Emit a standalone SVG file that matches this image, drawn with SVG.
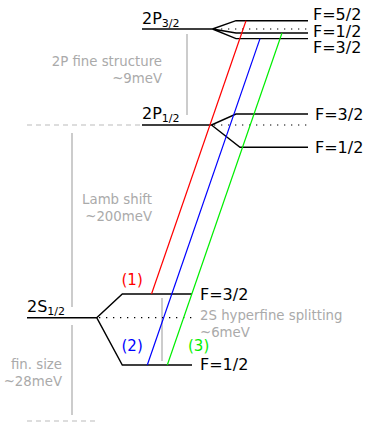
<svg xmlns="http://www.w3.org/2000/svg" width="366" height="422" viewBox="0 0 366 422">
<style>
.lv{stroke:#000;stroke-width:1.4;fill:none}
.dot{stroke:#000;stroke-width:1.2;stroke-dasharray:1.3 5.7;fill:none}
.gl{stroke:#aaa;stroke-width:1.2;fill:none}
.gd{stroke:#bbb;stroke-width:1.2;stroke-dasharray:5 4;fill:none}
.t{font-family:"DejaVu Sans",sans-serif;font-size:16px;fill:#000}
.s{font-size:11px}
.g{font-family:"DejaVu Sans",sans-serif;font-size:13.3px;fill:#aaa}
.n{font-family:"DejaVu Sans",sans-serif;font-size:15px}
</style>
<rect width="366" height="422" fill="#fff"/>
<g id="scales">
<line class="gd" x1="27" y1="125" x2="140" y2="125"/>
<line class="gd" x1="27" y1="421" x2="95" y2="421"/>
<line class="gl" x1="187" y1="34" x2="187" y2="115"/>
<line class="gl" x1="72" y1="133" x2="72" y2="307"/>
<line class="gl" x1="72" y1="325" x2="72" y2="415"/>
<line class="gl" x1="162" y1="298" x2="162" y2="361"/>
<text class="g" x="162" y="66" text-anchor="end">2P fine structure</text>
<text class="g" x="162" y="83" text-anchor="end">~9meV</text>
<text class="g" x="152" y="204" text-anchor="end">Lamb shift</text>
<text class="g" x="152" y="221" text-anchor="end">~200meV</text>
<text class="g" x="62" y="369" text-anchor="end">fin. size</text>
<text class="g" x="62" y="386" text-anchor="end">~28meV</text>
<text class="g" x="200" y="320">2S hyperfine splitting</text>
<text class="g" x="200" y="337">~6meV</text>
</g>
<g id="P32">
<path class="lv" d="M142 29H212.5L236 20.7H308M212.5 29L236 33H308M212.5 29L236 38.6H308"/>
<line class="dot" x1="214" y1="29" x2="308" y2="29"/>
<text class="t" x="142" y="24">2P<tspan class="s" dy="3">3/2</tspan></text>
<text class="t" x="313" y="19.5">F=5/2</text>
<text class="t" x="313" y="37">F=1/2</text>
<text class="t" x="313" y="52.5">F=3/2</text>
</g>
<g id="P12">
<path class="lv" d="M142 125H211.5L236 114H308M211.5 125L240 147.3H308"/>
<line class="dot" x1="214" y1="125" x2="308" y2="125"/>
<text class="t" x="142" y="119">2P<tspan class="s" dy="3">1/2</tspan></text>
<text class="t" x="315" y="120">F=3/2</text>
<text class="t" x="315" y="153">F=1/2</text>
</g>
<g id="S12">
<path class="lv" d="M27 317.7H96.7L122.3 294H192M96.7 317.7L122.3 365H192"/>
<line class="dot" x1="99" y1="317.7" x2="192" y2="317.7"/>
<text class="t" x="27" y="312">2S<tspan class="s" dy="3">1/2</tspan></text>
<text class="t" x="200" y="300">F=3/2</text>
<text class="t" x="200" y="370">F=1/2</text>
</g>
<g id="transitions">
<line x1="151.5" y1="294" x2="246" y2="20.7" stroke="#f00" stroke-width="1.2"/>
<line x1="147.3" y1="365" x2="260" y2="38.6" stroke="#00f" stroke-width="1.2"/>
<line x1="167.3" y1="365" x2="282" y2="33" stroke="#0e0" stroke-width="1.2"/>
<text class="n" x="121.5" y="285" fill="#f00">(1)</text>
<text class="n" x="121.5" y="351" fill="#00f">(2)</text>
<text class="n" x="188" y="351" fill="#0e0">(3)</text>
</g>
</svg>
